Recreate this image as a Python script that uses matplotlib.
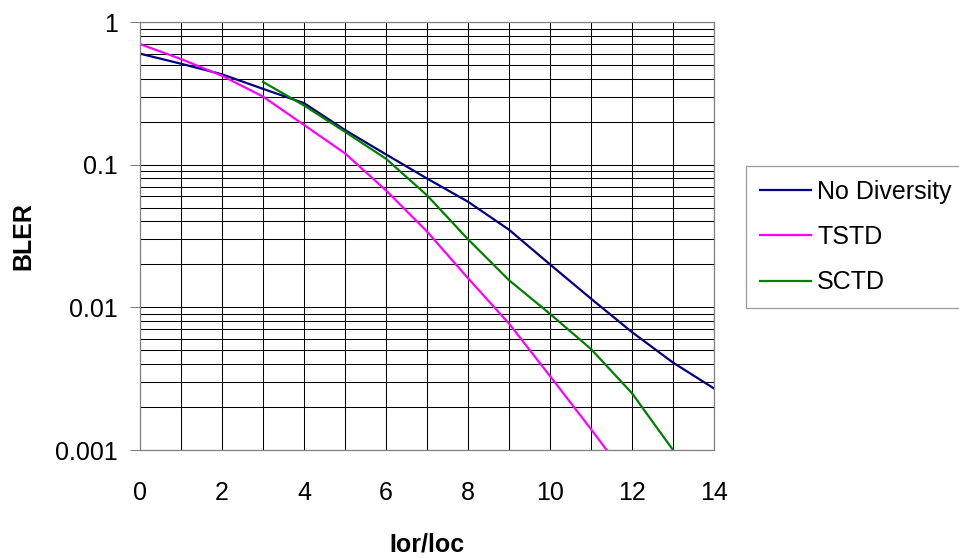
import numpy as np
import matplotlib
matplotlib.use("Agg")
import matplotlib.pyplot as plt
from matplotlib.ticker import LogLocator, FixedLocator, NullFormatter, MultipleLocator

plt.rcParams['font.family'] = ['Liberation Sans', 'DejaVu Sans']

# ---- data ----
x_nodiv = [0, 1, 2, 3, 4, 5, 6, 7, 8, 9, 10, 11, 12, 13, 14]
bler_nodiv = [0.60, 0.51, 0.43, 0.34, 0.27, 0.175, 0.118, 0.080, 0.055, 0.035,
              0.020, 0.0115, 0.0067, 0.0041, 0.0027]

x_tstd = [0, 1, 2, 3, 4, 5, 6, 7, 8, 9, 10, 11, 12]
bler_tstd = [0.70, 0.55, 0.42, 0.30, 0.19, 0.12, 0.066, 0.034, 0.016, 0.0077,
             0.0033, 0.0014, 0.00058]

x_sctd = [3, 4, 5, 6, 7, 8, 9, 10, 11, 12, 13]
bler_sctd = [0.38, 0.26, 0.17, 0.11, 0.061, 0.030, 0.0155, 0.009, 0.0051,
             0.0025, 0.001]

labels = ['No Diversity', 'TSTD', 'SCTD']
colors = ['#000080', '#FF00FF', '#008000']

fig = plt.figure(figsize=(9.59, 5.58), dpi=100)
ax = fig.add_axes([140 / 959, 1 - 450 / 558, (714 - 140) / 959, (450 - 22) / 558])

ax.plot(x_nodiv, bler_nodiv, color=colors[0], lw=1.6, label=labels[0])
ax.plot(x_tstd, bler_tstd, color=colors[1], lw=1.6, label=labels[1])
ax.plot(x_sctd, bler_sctd, color=colors[2], lw=1.6, label=labels[2])

ax.set_yscale('log')
ax.set_xlim(0, 14)
ax.set_ylim(0.001, 1)

ax.yaxis.set_major_locator(FixedLocator([0.001, 0.01, 0.1, 1]))
ax.set_yticklabels(['0.001', '0.01', '0.1', '1'])
ax.yaxis.set_minor_locator(LogLocator(base=10, subs=np.arange(2, 10)))
ax.yaxis.set_minor_formatter(NullFormatter())
ax.xaxis.set_major_locator(MultipleLocator(2))
ax.xaxis.set_minor_locator(MultipleLocator(1))

ax.grid(True, which='both', color='black', lw=0.75)
ax.set_axisbelow(True)

ax.tick_params(axis='y', which='major', direction='out', length=7, width=0.75,
               color='#808080', labelsize=18, pad=9)
ax.tick_params(axis='y', which='minor', length=0)
ax.tick_params(axis='x', which='both', length=0, labelsize=18, pad=22)

for s in ax.spines.values():
    s.set_color('#808080')
    s.set_linewidth(0.9)

ax.set_xlabel('Ior/loc', fontsize=18, fontweight='bold', labelpad=20)
ax.set_ylabel('BLER', fontsize=18, fontweight='bold', labelpad=14)

leg = fig.legend(loc='upper left', bbox_to_anchor=(746 / 959, 1 - 166 / 558),
                 fontsize=18, frameon=True, fancybox=False, handlelength=2.05,
                 handletextpad=0.25, borderpad=0.55, labelspacing=0.85,
                 borderaxespad=0)
leg.get_frame().set_edgecolor('#808080')
leg.get_frame().set_linewidth(0.9)
for h in leg.get_lines():
    h.set_linewidth(1.6)

fig.savefig('out.png', dpi=100)
